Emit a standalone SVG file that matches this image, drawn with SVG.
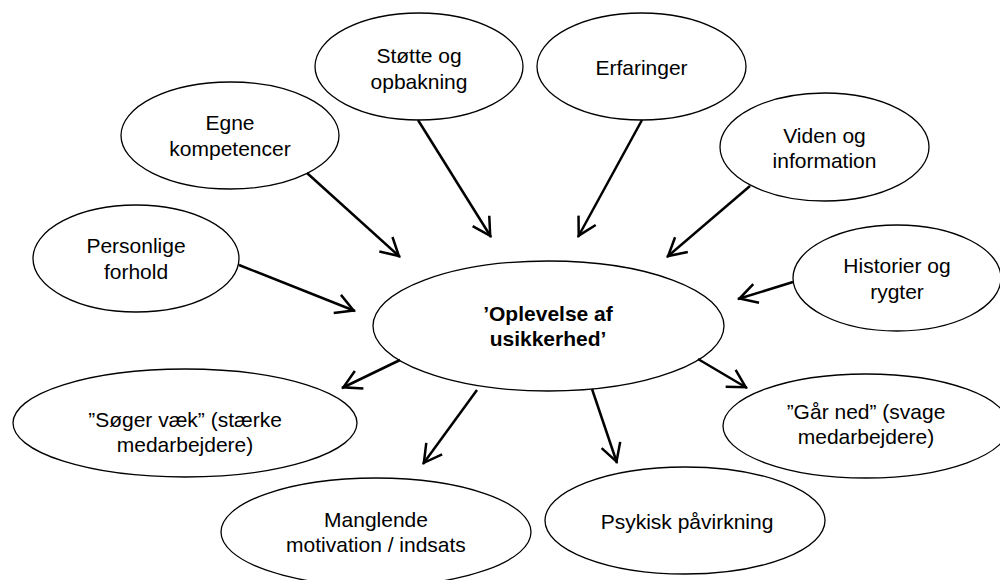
<svg xmlns="http://www.w3.org/2000/svg" width="1000" height="580" viewBox="0 0 1000 580">
<style>
.node ellipse{fill:#fff;stroke:#000;stroke-width:1.3}
.node text{font-family:"Liberation Sans",Arial,sans-serif;font-size:21px;fill:#000;text-anchor:middle}
.node text.b{font-weight:bold}
.conn line{stroke:#000;stroke-width:2.5;fill:none;marker-end:url(#arr)}
</style>
<defs>
<marker id="arr" markerUnits="userSpaceOnUse" viewBox="-22 -12 24 24" markerWidth="24" markerHeight="24" refX="0" refY="0" orient="auto" overflow="visible">
<path d="M-19,-9.8 L-1.5,0 L-19,9.8" fill="none" stroke="#000" stroke-width="2.5"/>
</marker>
</defs>
<rect width="1000" height="580" fill="#fff"/>
<g id="n-stotte" class="node"><ellipse cx="419" cy="66.5" rx="104" ry="53.5"/><text x="419" y="63">Støtte og</text><text x="419" y="89">opbakning</text></g>
<g id="n-erfaringer" class="node"><ellipse cx="641.5" cy="66.5" rx="104.5" ry="53.5"/><text x="641.5" y="75">Erfaringer</text></g>
<g id="n-egne" class="node"><ellipse cx="230" cy="135.5" rx="109" ry="53.5"/><text x="230" y="130">Egne</text><text x="230" y="156">kompetencer</text></g>
<g id="n-viden" class="node"><ellipse cx="824.5" cy="147" rx="104.5" ry="54"/><text x="824.5" y="143">Viden og</text><text x="824.5" y="168">information</text></g>
<g id="n-personlige" class="node"><ellipse cx="136" cy="258.5" rx="103" ry="53.5"/><text x="136" y="253">Personlige</text><text x="136" y="279">forhold</text></g>
<g id="n-historier" class="node"><ellipse cx="897" cy="278" rx="104" ry="53"/><text x="897" y="273">Historier og</text><text x="897" y="299">rygter</text></g>
<g id="n-center" class="node"><ellipse cx="548.5" cy="326" rx="175.5" ry="65"/><text class="b" x="548" y="321">’Oplevelse af</text><text class="b" x="548" y="346">usikkerhed’</text></g>
<g id="n-soger" class="node"><ellipse cx="185" cy="423" rx="172" ry="54"/><text x="185" y="427">”Søger væk” (stærke</text><text x="185" y="452">medarbejdere)</text></g>
<g id="n-gaar" class="node"><ellipse cx="866" cy="426" rx="143" ry="52"/><text x="866" y="419">”Går ned” (svage</text><text x="866" y="444">medarbejdere)</text></g>
<g id="n-manglende" class="node"><ellipse cx="376" cy="532" rx="155" ry="54"/><text x="376" y="527">Manglende</text><text x="376" y="552">motivation / indsats</text></g>
<g id="n-psykisk" class="node"><ellipse cx="685" cy="520.5" rx="140" ry="53.5"/><text x="687" y="529">Psykisk påvirkning</text></g>
<g id="connectors" class="conn">
<line x1="239" y1="265" x2="355" y2="311"/>
<line x1="307" y1="173" x2="400" y2="257"/>
<line x1="418" y1="120" x2="491" y2="237"/>
<line x1="642" y1="120" x2="578" y2="237"/>
<line x1="750" y1="186" x2="667" y2="257"/>
<line x1="793" y1="282" x2="738" y2="299"/>
<line x1="698" y1="359" x2="747" y2="388"/>
<line x1="400" y1="360" x2="342" y2="388"/>
<line x1="477" y1="390" x2="423" y2="464"/>
<line x1="592" y1="389" x2="617" y2="463"/>
</g>
</svg>
